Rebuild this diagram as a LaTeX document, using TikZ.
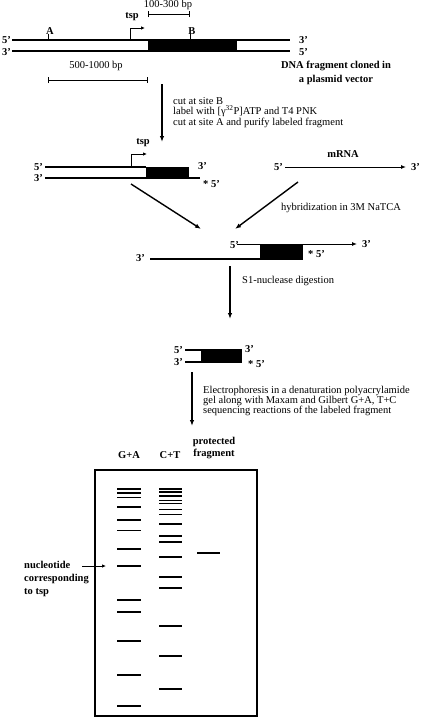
\documentclass[tikz,border=0pt]{standalone}
\usepackage{fontspec}
\setmainfont{Liberation Serif}
\usetikzlibrary{arrows.meta}
\begin{document}
\begin{tikzpicture}[x=1pt,y=-1pt,
  dna/.style={line width=1.6pt},
  lab/.style={font=\fontsize{10.5}{12.5}\selectfont\bfseries, inner sep=0pt},
  txt/.style={font=\fontsize{10.5}{10.2}\selectfont, inner sep=0pt, align=left},
  flow/.style={line width=1.4pt,-{Latex[length=6pt,width=4.5pt]}},
  tsparrow/.style={line width=0.9pt,-{Latex[length=4pt,width=3.5pt]}},
  sbar/.style={line width=0.8pt,{Bar[width=6pt]}-{Bar[width=6pt]}},
  band/.style={line width=1.5pt}
]
\useasboundingbox (0,0) rectangle (423,718);

% ---------- molecule 1: cloned fragment ----------
\coordinate (t1l) at (12,40);  \coordinate (t1r) at (290,40);
\coordinate (b1l) at (12,51);  \coordinate (b1r) at (290,51);
\fill (148,40) rectangle (237,51);
\draw[dna] (t1l) -- (t1r);
\draw[dna] (b1l) -- (b1r);
\node[lab,anchor=east] (m1a) at ([xshift=-1pt]t1l) {5’};
\node[lab,anchor=east] (m1b) at ([xshift=-1pt,yshift=-1pt]b1l) {3’};
\node[lab,anchor=west] (m1c) at ([xshift=9pt]t1r) {3’};
\node[lab,anchor=west] (m1d) at ([xshift=9pt,yshift=-1pt]b1r) {5’};
% sites
\coordinate (sA) at (48,40); \coordinate (sAt) at (48,34);
\coordinate (sB) at (190,40); \coordinate (sBt) at (190,34);
\draw[line width=0.8pt] (sA) -- (sAt);
\draw[line width=0.8pt] (sB) -- (sBt);
\node[lab,anchor=south] (labA) at ([xshift=2pt,yshift=-1pt]sAt) {A};
\node[lab,anchor=south] (labB) at ([xshift=2pt,yshift=-1pt]sBt) {B};
% tsp
\coordinate (tsp1a) at (130,40); \coordinate (tsp1b) at (130,28); \coordinate (tsp1c) at (145,28);
\draw[tsparrow] (tsp1a) -- (tsp1b) -- (tsp1c);
\node[lab] (tsp1) at (132,17) {tsp};
% scale bars
\coordinate (s1l) at (148,14); \coordinate (s1r) at (190,14);
\draw[sbar] (s1l) -- (s1r);
\node[txt,anchor=south] (s1t) at (168,10) {100-300 bp};
\coordinate (s2l) at (48,80); \coordinate (s2r) at (148,80);
\draw[sbar] (s2l) -- (s2r);
\node[txt] (s2t) at (96,66) {500-1000 bp};
\node[lab,align=center,font=\fontsize{10.5}{13.5}\selectfont\bfseries] (dnafrag) at (336,73) {DNA fragment cloned in\\a plasmid vector};

% ---------- step 1 ----------
\coordinate (a1s) at (162,84); \coordinate (a1e) at (162,142);
\draw[flow] (a1s) -- (a1e);
\node[txt,anchor=north west,font=\fontsize{10.5}{10.8}\selectfont] (step1) at (173,97) {cut at site B\\label with [γ\textsuperscript{32}P]ATP and T4 PNK\\cut at site A and purify labeled fragment};

% ---------- molecule 2: labeled fragment ----------
\coordinate (t2l) at (45,167); \coordinate (t2r) at (146,167);
\coordinate (b2l) at (45,178); \coordinate (b2r) at (200,178);
\fill (146,167) rectangle (189,178);
\draw[dna] (t2l) -- (t2r);
\draw[dna] (b2l) -- (b2r);
\node[lab,anchor=east] (m2a) at ([xshift=-2pt]t2l) {5’};
\node[lab,anchor=east] (m2b) at ([xshift=-2pt]b2l) {3’};
\node[lab,anchor=west] (m2c) at (198,166) {3’};
\node[lab,anchor=west] (m2d) at (203,184) {* 5’};
\coordinate (tsp2a) at (131,167); \coordinate (tsp2b) at (131,154); \coordinate (tsp2c) at (147,154);
\draw[tsparrow] (tsp2a) -- (tsp2b) -- (tsp2c);
\node[lab] (tsp2) at (143,143) {tsp};

% mRNA
\coordinate (ml) at (285,167); \coordinate (mr) at (406,167);
\draw[line width=1pt,-{Latex[length=5pt,width=4pt]}] (ml) -- (mr);
\node[lab,anchor=east] (mr5) at ([xshift=-2pt]ml) {5’};
\node[lab,anchor=west] (mr3) at ([xshift=5pt]mr) {3’};
\node[lab] (mrna) at (343,154) {mRNA};

% converging arrows
\coordinate (c1s) at (131,184); \coordinate (c1e) at (201,229);
\coordinate (c2s) at (298,182); \coordinate (c2e) at (235,229);
\draw[flow] (c1s) -- (c1e);
\draw[flow] (c2s) -- (c2e);
\node[txt] (hyb) at (341,208) {hybridization in 3M NaTCA};

% ---------- molecule 3: hybrid ----------
\coordinate (t3l) at (237,244); \coordinate (t3r) at (357,244);
\coordinate (b3l) at (150,259); \coordinate (b3r) at (303,259);
\fill (260,244) rectangle (303,259);
\draw[line width=1pt,-{Latex[length=5pt,width=4pt]}] (t3l) -- (t3r);
\draw[dna] (b3l) -- (b3r);
\node[lab,anchor=east] (m3a) at ([xshift=2pt,yshift=-1pt]t3l) {5’};
\node[lab,anchor=west] (m3b) at ([xshift=5pt]t3r) {3’};
\node[lab,anchor=east] (m3c) at ([xshift=-5pt,yshift=1pt]b3l) {3’};
\node[lab,anchor=west] (m3d) at ([xshift=5pt,yshift=5pt]b3r) {* 5’};

% ---------- step S1 ----------
\coordinate (a2s) at (230,266); \coordinate (a2e) at (230,319);
\draw[flow] (a2s) -- (a2e);
\node[txt,anchor=west] (s1nuc) at (242,281) {S1-nuclease digestion};

% ---------- molecule 4: protected ----------
\coordinate (t4l) at (185,350); \coordinate (t4r) at (201,350);
\coordinate (b4l) at (185,362); \coordinate (b4r) at (242,362);
\fill (201,349) rectangle (242,362);
\draw[dna] (t4l) -- (t4r);
\draw[dna] (b4l) -- (b4r);
\node[lab,anchor=east] (m4a) at ([xshift=-2pt]t4l) {5’};
\node[lab,anchor=east] (m4b) at ([xshift=-2pt]b4l) {3’};
\node[lab,anchor=west] (m4c) at (245,349) {3’};
\node[lab,anchor=west] (m4d) at (248,364) {* 5’};

% ---------- step electrophoresis ----------
\coordinate (a3s) at (192,372); \coordinate (a3e) at (192,426);
\draw[flow] (a3s) -- (a3e);
\node[txt,anchor=north west] (electro) at (203,386) {Electrophoresis in a denaturation polyacrylamide\\gel along with Maxam and Gilbert G+A, T+C\\sequencing reactions of the labeled fragment};

% ---------- gel ----------
\node[lab] (ga) at (129,455) {G+A};
\node[lab] (ct) at (170,455) {C+T};
\node[lab,align=center,font=\fontsize{10.5}{12}\selectfont\bfseries] (prot) at (214,448) {protected\\fragment};
\draw[line width=1.2pt] (95,470) rectangle (257,716);
\foreach \y in {489,493,497.5,507,520,530.5,549,566,600,612,641,675,706}
  \draw[band] (117,\y) -- (141,\y);
\foreach \y in {489,492,496,500.5,503.5,509.5,514.5,524,536,542,557,577,588,626,656,689}
  \draw[band] (159,\y) -- (182,\y);
\draw[band] (197,553) -- (220,553);
\node[lab,anchor=north west,align=left,font=\fontsize{10.5}{13}\selectfont\bfseries] (nuc) at (24,561) {nucleotide\\corresponding\\to tsp};
\coordinate (nas) at (82,566); \coordinate (nae) at (106,566);
\draw[line width=0.9pt,-{Latex[length=4pt,width=3.5pt]}] (nas) -- (nae);
\end{tikzpicture}
\end{document}
